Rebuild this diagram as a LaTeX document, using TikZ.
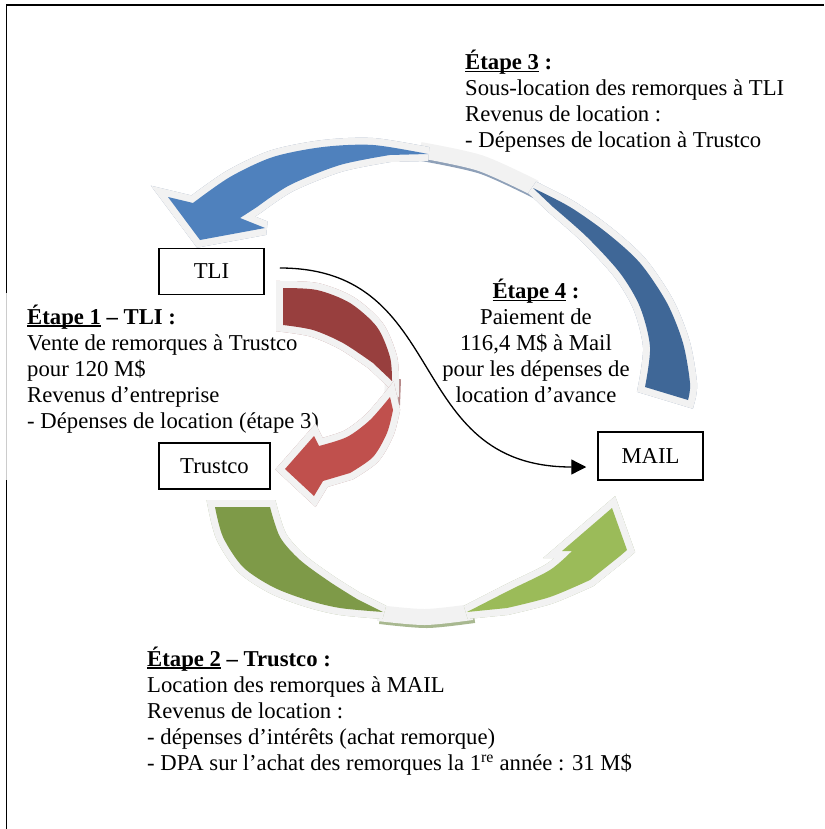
\documentclass[tikz,border=0pt]{standalone}
\usepackage{fontspec}
\setmainfont{Liberation Serif}
\usetikzlibrary{arrows.meta}

\definecolor{blueA}{HTML}{4F81BD}
\definecolor{blueB}{HTML}{3F6797}
\definecolor{blueS}{HTML}{8EA0B8}
\definecolor{redA}{HTML}{C0504D}
\definecolor{redB}{HTML}{983F3E}
\definecolor{redS}{HTML}{B58888}
\definecolor{greenA}{HTML}{9BBB59}
\definecolor{greenB}{HTML}{7E9A48}
\definecolor{greenS}{HTML}{A8B890}
\definecolor{rimgray}{HTML}{F2F2F2}

\newcommand\stepul[1]{\setbox0\hbox{#1}\rlap{\rule[-2.6pt]{\wd0}{1.6pt}}\box0}

\tikzset{
  entity/.style={draw, line width=1.5, minimum height=46, inner sep=0},
  stepnote/.style={inner sep=0, align=left, anchor=north west},
  rimmed/.style={draw=rimgray, line width=14, line join=miter, miter limit=3},
  castshadow/.style={draw=#1, fill=#1, line width=14, line join=miter, miter limit=3, shift={(2,3)}},
  piece/.style 2 args={fill=#1, preaction={castshadow=#2}, preaction={rimmed}}
}

\begin{document}
\begin{tikzpicture}[x=1pt, y=-1pt, font=\fontsize{22.7}{26}\selectfont]
\useasboundingbox (0,0) rectangle (824,829);

\draw[line width=1.8] (6.5,829) -- (6.5,480);
\draw[line width=1.8] (6.5,293) -- (6.5,5) -- (824,5);
\draw[black!20, line width=0.8] (6,293) -- (6,480);

\node[stepnote] (etape3) at (465,50) {\stepul{\textbf{Étape 3}}\textbf{ :}\\
Sous-location des remorques à TLI\\
Revenus de location :\\
- Dépenses de location à Trustco};
\node[stepnote] (etape1) at (27,304.6) {\stepul{\textbf{Étape 1}}\textbf{ – TLI :}\\
Vente de remorques à Trustco\\
pour 120 M\$\\
Revenus d’entreprise\\
- Dépenses de location (étape 3)};
\node[stepnote, align=center, anchor=north] (etape4) at (536,279) {\stepul{\textbf{Étape 4}}\textbf{ :}\\
Paiement de\\
116,4 M\$ à Mail\\
pour les dépenses de\\
location d’avance};
\node[stepnote] (etape2) at (147,646.6) {\stepul{\textbf{Étape 2}}\textbf{ – Trustco :}\\
Location des remorques à MAIL\\
Revenus de location :\\
- dépenses d’intérêts (achat remorque)\\
- DPA sur l’achat des remorques la 1\textsuperscript{re} année : 31 M\$};

\draw[blueS, line width=16, shift={(2,3)}] plot[smooth] coordinates {(420,150) (480,163) (535,188)};
\draw[rimgray, line width=16] plot[smooth] coordinates {(420,150) (480,163) (535,188)};
\path[piece={blueA}{blueS}] (240,218) -- (265,228) -- (200,240) -- (168,197)
  -- plot[smooth] coordinates {(193,203) (230,177) (273,157) (323,147) (373,145) (428,154)}
  -- plot[smooth] coordinates {(390,155) (340,165) (290,185) (257,207)} -- cycle;
\path[piece={blueB}{blueS}] plot[smooth] coordinates {(533,188) (570,207) (607,233) (640,263) (667,303) (683,343) (690,383) (688,400)}
  -- plot[smooth] coordinates {(645,387) (650,347) (640,307) (620,273) (587,237) (553,207)} -- cycle;

\draw[redS, line width=14, shift={(2,3)}] (392,376) -- (391,402);
\draw[rimgray, line width=14] (392,376) -- (391,402);
\path[piece={redB}{redS}] plot[smooth] coordinates {(283,288) (317,290) (350,303) (377,327) (390,357) (392,381)}
  -- plot[smooth] coordinates {(373,363) (343,343) (313,330) (283,325)} -- cycle;
\path[piece={redA}{redS}] (323,481) -- (314,496) -- (285,469) -- (314,436)
  -- plot[smooth] coordinates {(319,446) (347,437) (370,420) (390,397)}
  -- plot[smooth] coordinates {(393,410) (387,433) (373,457) (350,473)} -- cycle;

\draw[greenS, line width=16, shift={(2,3)}] plot[smooth] coordinates {(378,613) (425,617) (472,612)};
\draw[rimgray, line width=16] plot[smooth] coordinates {(378,613) (425,617) (472,612)};
\path[piece={greenB}{greenS}] plot[smooth] coordinates {(215,507) (223,537) (243,567) (273,587) (307,600) (340,608) (383,612)}
  -- plot[smooth] coordinates {(357,599) (330,582) (300,560) (280,537) (270,507)} -- cycle;
\path[piece={greenA}{greenS}] (620,556) -- (627,550) -- (612,508) -- (562,551)
  -- plot[smooth] coordinates {(572,551) (550,570) (510,590) (467,612)}
  -- plot[smooth] coordinates {(507,608) (550,597) (590,580)} -- cycle;

\node[entity, minimum width=105] (tli) at (211.5,271.5) {TLI};
\node[entity, minimum width=111] (trustco) at (214.5,466) {Trustco};
\node[entity, minimum width=105, minimum height=48] (mail) at (650.5,456) {MAIL};

\draw[line width=1.3, -{Triangle[length=15pt, width=15pt]}] ([shift={(15,-3.5)}]tli.east)
  .. controls (452,268) and (402,467) .. ([shift={(-11,11)}]mail.west);
\end{tikzpicture}
\end{document}
